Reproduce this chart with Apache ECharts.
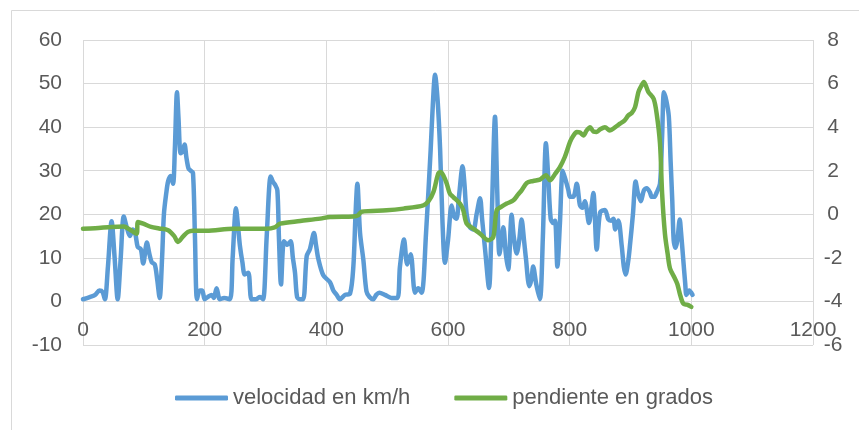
<!DOCTYPE html>
<html>
<head>
<meta charset="utf-8">
<script src="https://cdn.jsdelivr.net/npm/echarts@6/dist/echarts.min.js"></script>
<style>
  html, body { margin: 0; padding: 0; background: #ffffff; }
  #chart { width: 859px; height: 430px; }
</style>
</head>
<body>
<div id="chart"></div>
<script>
// Distance along the route (x) and speed in km/h
const velX = [0, 11, 20, 27, 32, 36, 41, 47, 52, 57, 62, 67, 72, 77, 82, 86, 90, 95, 99, 105,
  109, 113, 118, 122, 126, 130, 133, 137, 140, 144, 148, 151, 154.5, 157, 160.5, 164, 167, 170, 173.5, 177,
  180.8, 184, 187.4, 192, 196, 200, 205, 211.5, 215, 219.6, 225, 232, 241.6, 246, 251.5, 255, 258, 262, 266, 271.8,
  277, 284, 291, 296, 302, 308.5, 312, 315.6, 319.5, 322, 325.5, 330.4, 336, 341.3, 345, 348.5, 352, 357, 362, 367.7,
  373, 379.7, 383, 386.8, 395, 406, 411.5, 417, 422.5, 430.7, 439, 444.4, 448, 451, 455.4, 460.8, 466, 471, 477, 482,
  487, 496.5, 507, 516.8, 521, 527.7, 533, 538.7, 545.8, 551, 556.7, 563.9, 571.5, 575, 578.7, 583, 587, 591, 595, 600,
  606, 610, 614, 618, 624, 627, 630.7, 636, 641.7, 647, 652.7, 656, 660.9, 667.4, 672, 677.3, 681, 684.5, 688, 691,
  695, 699, 704.6, 708, 712.9, 717, 721, 725, 728, 733.7, 737, 740, 745, 751, 756, 761, 765, 768.8, 773, 776,
  779.8, 784, 788.6, 793, 797.8, 800.6, 806, 811.6, 817, 821, 825, 831.8, 836, 839, 844.5, 850, 858, 863.6, 868, 871.8,
  875, 880, 885.6, 889, 892, 896, 899, 904, 908.4, 912, 917, 922, 926.7, 932, 935, 939, 943, 948.5, 952, 955,
  959, 963, 966, 968.7, 971, 974, 977, 981, 983, 986.5, 990, 992, 996.5, 1002];
const velY = [0.5, 1, 1.5, 2.5, 2.2, 0.5, 8, 18.4, 10, 0.5, 10, 19.5, 17, 15, 16.5, 15.5, 12.5, 12, 8.7, 13.5,
  11, 9, 8.5, 5, 0.8, 10, 20, 25, 27.6, 28.8, 27, 35, 48, 42, 34, 34.5, 36, 33, 30.5, 30,
  29.5, 15, 0.5, 2.5, 2.5, 0.5, 1, 1.5, 0.8, 3, 0.5, 0.8, 0.5, 10, 21.4, 17, 12.7, 9, 6.2, 6.6,
  0.5, 0.5, 1, 0.5, 15, 28.7, 27.5, 26.8, 25.5, 15, 3.9, 13.8, 13, 13.8, 10, 6.6, 1, 0.5, 0.5, 10.4,
  12, 15.7, 13, 9.8, 6, 4.4, 2.5, 1.5, 0.5, 1.5, 1.8, 8, 20, 27, 15.7, 9.6, 2.3, 1, 0.5, 1.5,
  2, 1.5, 0.8, 0.8, 8, 14.2, 8.5, 10.8, 2, 3, 2, 15.7, 34.8, 45, 52, 46, 35, 18, 8.9, 14,
  22, 19.5, 19, 24, 31, 27, 20, 17, 16.5, 20, 23.7, 19, 12, 3.1, 20, 42.4, 25, 10.8, 14, 17,
  11, 7.3, 19.9, 15, 11, 14, 18.8, 14, 10, 3.5, 5, 8, 4, 0.5, 15, 36.3, 28, 19, 18, 18.5,
  8, 18, 30, 28, 25.6, 24, 24, 27, 22, 21.5, 23, 18, 22, 24.9, 11.9, 20.4, 21, 18.8, 18.5, 19,
  16.5, 18.6, 12.7, 8, 6.2, 9, 12.7, 20, 27.5, 25, 23, 25.5, 26, 25, 24, 24, 25, 27, 38, 48,
  46, 42.4, 32, 23, 14, 12.3, 14, 18.8, 16, 10, 4, 1.5, 2.5, 1.5];

// Distance along the route (x) and slope in degrees
const slopeX = [0, 20, 47, 67, 77, 88, 90.4, 99, 112, 125, 140, 150, 156, 165, 172.6, 180, 203, 247, 302, 315,
  324, 357, 390, 406, 444, 452, 458, 499, 526.6, 559.5, 568, 576, 584, 588, 592, 598, 603, 608.7, 619.7, 625,
  630.7, 641.6, 652.7, 666.3, 674.5, 680, 688, 696.5, 707.5, 715, 721, 729.4, 740, 751, 761, 767.7, 776, 784, 792, 800.6,
  806, 811.6, 817, 822.5, 828, 833.5, 839, 844.5, 850, 858, 866, 875, 882.8, 890, 896.5, 902, 907.5, 913, 917, 922,
  926, 929.5, 938, 943, 948.5, 952, 956.6, 961, 965, 973, 977, 981, 986.7, 993, 1000];
const slopeY = [-0.66, -0.64, -0.58, -0.56, -0.7, -0.89, -0.35, -0.43, -0.58, -0.65, -0.73, -1.0, -1.27, -1.0, -0.81, -0.75, -0.76, -0.66, -0.66, -0.6,
  -0.43, -0.31, -0.2, -0.12, -0.1, -0.05, 0.12, 0.18, 0.26, 0.41, 0.6, 1.02, 1.87, 1.94, 1.8, 1.4, 0.95, 0.79, 0.49, 0.2,
  -0.43, -0.66, -0.89, -1.19, -1.04, 0.18, 0.35, 0.49, 0.64, 0.9, 1.1, 1.44, 1.53, 1.59, 1.79, 1.56, 1.85, 2.17, 2.63, 3.32,
  3.6, 3.78, 3.75, 3.62, 3.85, 4.0, 3.8, 3.78, 3.9, 4.0, 3.85, 4.0, 4.16, 4.3, 4.54, 4.65, 4.92, 5.61, 5.85, 6.07,
  5.85, 5.61, 5.3, 4.62, 3.24, 0.95, -0.89, -1.8, -2.49, -2.95, -3.2, -3.64, -4.1, -4.15, -4.25];

const seriesNames = ['velocidad en km/h', 'pendiente en grados'];
const seriesColors = ['#5B9BD5', '#70AD47'];

const zip = (xs, ys) => xs.map((x, i) => [x, ys[i]]);

const labelFont = { color: '#595959', fontFamily: 'Liberation Sans', fontSize: 21 };
const gridColor = '#D9D9D9';

const gridTop = 40, gridBottom = 85, chartH = 430;
const leftMin = -10, leftMax = 60;
// the horizontal axis sits on the speed axis's zero line
const zeroOffset = -(chartH - gridTop - gridBottom) * (0 - leftMin) / (leftMax - leftMin);

const chart = echarts.init(document.getElementById('chart'), null, { renderer: 'canvas' });

chart.setOption({
  backgroundColor: '#ffffff',
  animation: false,
  graphic: [{
    type: 'rect',
    shape: { x: 11.5, y: 10.5, width: 1000, height: 1000 },
    style: { fill: 'none', stroke: gridColor, lineWidth: 1 },
    silent: true
  }],
  grid: { left: 83, right: 46, top: gridTop, bottom: gridBottom, containLabel: false },
  legend: {
    data: seriesNames,
    left: 170,
    top: 382,
    icon: 'roundRect',
    itemWidth: 53,
    itemHeight: 5,
    itemGap: 44,
    textStyle: { color: '#595959', fontFamily: 'Liberation Sans', fontSize: 22 }
  },
  xAxis: {
    type: 'value',
    min: 0,
    max: 1200,
    interval: 200,
    offset: zeroOffset,
    axisLine: { show: true, onZero: false, lineStyle: { color: gridColor, width: 1 } },
    axisTick: { show: false },
    axisLabel: Object.assign({ margin: 18, formatter: v => String(v) }, labelFont),
    splitLine: { show: true, lineStyle: { color: gridColor, width: 1 } }
  },
  yAxis: [{
    type: 'value',
    min: leftMin,
    max: leftMax,
    interval: 10,
    axisLine: { show: false },
    axisTick: { show: false },
    axisLabel: Object.assign({ margin: 21 }, labelFont),
    splitLine: { show: true, lineStyle: { color: gridColor, width: 1 } }
  }, {
    type: 'value',
    position: 'right',
    min: -6,
    max: 8,
    interval: 2,
    axisLine: { show: false },
    axisTick: { show: false },
    axisLabel: Object.assign({ margin: 20, align: 'center' }, labelFont),
    splitLine: { show: false }
  }],
  series: [{
    name: seriesNames[0],
    type: 'line',
    yAxisIndex: 0,
    data: zip(velX, velY),
    showSymbol: false,
    smooth: 0.3,
    color: seriesColors[0],
    lineStyle: { width: 4.5, color: seriesColors[0], cap: 'round', join: 'round' },
    z: 2
  }, {
    name: seriesNames[1],
    type: 'line',
    yAxisIndex: 1,
    data: zip(slopeX, slopeY),
    showSymbol: false,
    smooth: 0.3,
    color: seriesColors[1],
    lineStyle: { width: 4.5, color: seriesColors[1], cap: 'round', join: 'round' },
    z: 3
  }]
});
</script>
</body>
</html>
